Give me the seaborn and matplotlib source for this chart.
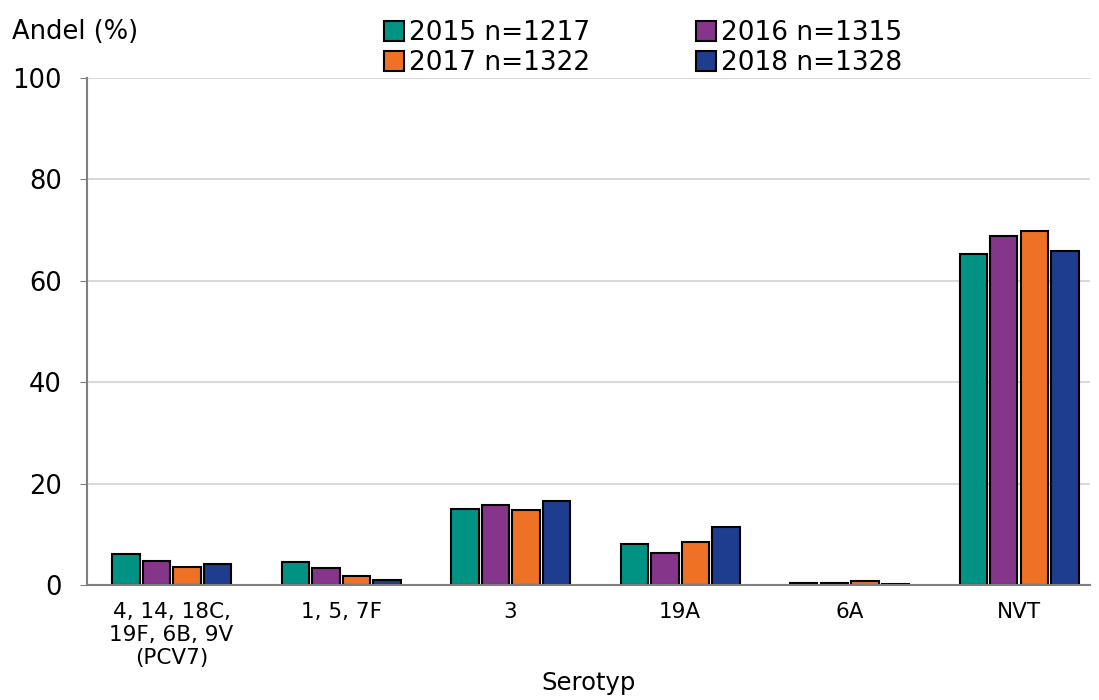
import pandas as pd
import numpy as np
import matplotlib.pyplot as plt
import seaborn as sns

categories = ['4, 14, 18C,\n19F, 6B, 9V\n(PCV7)', '1, 5, 7F', '3', '19A', '6A', 'NVT']
years = ['2015 n=1217', '2016 n=1315', '2017 n=1322', '2018 n=1328']
v2015 = [6.2, 4.5, 15.1, 8.1, 0.5, 65.2]
v2016 = [4.7, 3.3, 15.8, 6.3, 0.5, 68.9]
v2017 = [3.6, 1.9, 14.8, 8.6, 0.8, 69.7]
v2018 = [4.1, 1.1, 16.6, 11.4, 0.3, 65.9]
colors = ['#009384', '#85358a', '#ef7125', '#1f3d8f']

df = pd.DataFrame({
    'Serotyp': categories * 4,
    'year': np.repeat(years, len(categories)),
    'value': v2015 + v2016 + v2017 + v2018,
})

sns.set_style('white')
plt.rcParams['font.family'] = ['DejaVu Sans']
plt.rcParams['text.color'] = 'black'
plt.rcParams['xtick.color'] = 'black'
plt.rcParams['ytick.color'] = 'black'
plt.rcParams['axes.labelcolor'] = 'black'

fig = plt.figure(figsize=(10.99, 7), dpi=100)
ax = fig.add_axes([0.079, 0.164, 0.913, 0.725])

sns.barplot(data=df, x='Serotyp', y='value', hue='year', palette=colors, saturation=1,
            width=0.72, gap=0.1, edgecolor='black', linewidth=1.5, ax=ax)

ax.set_ylim(0, 100)
ax.set_xlim(-0.5, 5.42)
ax.set_yticks(range(0, 101, 20))
ax.yaxis.grid(True, color='#d9d9d9', linewidth=1.5)
ax.set_axisbelow(True)
for s in ['top', 'right']:
    ax.spines[s].set_visible(False)
for s in ['left', 'bottom']:
    ax.spines[s].set_color('#808080')
    ax.spines[s].set_linewidth(1.5)
ax.tick_params(axis='y', labelsize=18.5, length=5, color='#808080', direction='out',
               left=True, pad=13)
ax.tick_params(axis='x', labelsize=15.5, length=0, pad=12)
ax.set_xlabel('Serotyp', fontsize=17.5, labelpad=2)
ax.set_ylabel('')
fig.text(0.011, 0.954, 'Andel (%)', fontsize=18.5, va='center')

handles, labels = ax.get_legend_handles_labels()
ax.legend_.remove()
order = [0, 2, 1, 3]
fig.legend([handles[i] for i in order], [labels[i] for i in order], ncol=2,
           loc='upper left', bbox_to_anchor=(0.328, 1.005),
           frameon=False, fontsize=19, handlelength=0.75, handleheight=0.75,
           handletextpad=0.2, columnspacing=4.0, labelspacing=0.15)

plt.savefig('out.png', dpi=100)
